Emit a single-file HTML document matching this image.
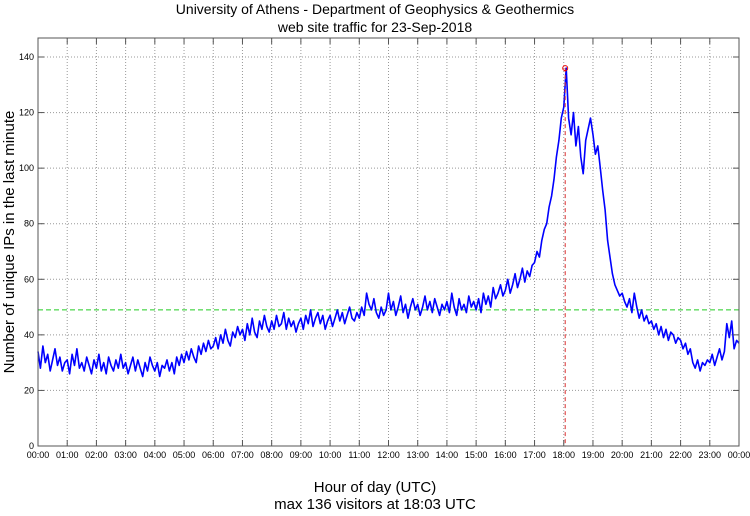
<!DOCTYPE html>
<html><head><meta charset="utf-8"><style>
body{margin:0;background:#fff;}
svg text{font-family:"Liberation Sans",sans-serif;fill:#000;}
</style></head><body>
<svg id="chart" width="750" height="511" xmlns="http://www.w3.org/2000/svg">
<text x="375" y="14" font-size="14" text-anchor="middle">University of Athens - Department of Geophysics &amp; Geothermics</text>
<text x="375" y="32" font-size="14" text-anchor="middle">web site traffic for 23-Sep-2018</text>
<text transform="translate(14,242) rotate(-90)" font-size="15" text-anchor="middle">Number of unique IPs in the last minute</text>
<text x="375" y="492" font-size="15" text-anchor="middle">Hour of day (UTC)</text>
<text x="375" y="509" font-size="15" text-anchor="middle">max 136 visitors at 18:03 UTC</text>
<g id="grid"></g><g id="marks"></g><g id="axes"></g>
</svg>
<script>
const yTicks=[0,20,40,60,80,100,120,140];
const xTickLabels=["00:00","01:00","02:00","03:00","04:00","05:00","06:00","07:00","08:00","09:00","10:00","11:00","12:00","13:00","14:00","15:00","16:00","17:00","18:00","19:00","20:00","21:00","22:00","23:00","00:00"];
const visitors=[
34,28,36,30,33,27,31,35,29,32,27,30,
31,26,33,29,35,28,30,27,32,29,26,31,
28,33,27,30,26,32,29,27,31,28,33,28,
30,26,29,32,27,31,28,25,30,27,32,29,
27,30,25,29,28,31,27,30,26,32,29,33,
30,34,31,35,32,30,36,33,37,34,38,35,
36,39,35,40,37,42,38,36,41,39,43,40,
42,38,44,40,46,41,39,45,42,47,43,41,
45,42,47,43,44,48,42,46,43,45,41,44,
46,42,47,44,49,43,46,48,44,47,42,45,
47,43,46,49,45,48,44,47,50,46,45,48,
46,50,47,55,51,49,53,48,46,50,47,49,
55,49,52,47,50,54,48,51,46,50,53,49,
51,47,50,54,49,52,48,53,50,47,51,49,
52,48,55,50,47,53,49,51,48,54,50,52,
49,53,48,55,51,54,50,57,53,55,58,54,
56,60,55,58,62,57,60,64,59,63,61,65,
66,70,68,74,78,80,86,90,96,104,110,118,
122,136,118,112,120,108,115,104,98,110,114,118,
112,105,108,100,92,85,74,68,62,58,56,54,
55,52,50,53,48,55,50,46,49,45,47,44,
45,42,44,40,43,39,42,38,41,40,37,39,
38,35,37,33,35,30,28,31,27,30,29,31,
30,33,29,32,35,31,34,44,39,45,35,38,
37];
const maxValue=136, maxHour=18.05, meanValue=49;
const L=38,R=739,T=38,B=446;
const X=h=>L+(R-L)*h/24;
const Y=v=>B-(B-57)*v/140;
const NS="http://www.w3.org/2000/svg";
function mk(tag,attrs,parent){const e=document.createElementNS(NS,tag);for(const k in attrs)e.setAttribute(k,attrs[k]);document.getElementById(parent).appendChild(e);return e;}
xTickLabels.forEach((lab,i)=>{
 const x=X(i);
 if(i>0&&i<24){const g=mk('line',{x1:x,x2:x,y1:T,y2:B,stroke:'#999','stroke-dasharray':'1,2'},'grid');
 }
 const t1=mk('line',{x1:x,x2:x,y1:B,y2:B-6,stroke:'#555'},'axes');
 
 const t2=mk('line',{x1:x,x2:x,y1:T,y2:T+6,stroke:'#555'},'axes');
 
 const t=mk('text',{x:x,y:B+12,'font-size':9,'text-anchor':'middle'},'axes');t.textContent=lab;
 
});
yTicks.forEach(v=>{
 const y=Y(v);
 if(v>0){const g=mk('line',{x1:L,x2:R,y1:y,y2:y,stroke:'#999','stroke-dasharray':'1,2'},'grid');
 }
 const t1=mk('line',{x1:L,x2:L+6,y1:y,y2:y,stroke:'#555'},'axes');
 
 const t2=mk('line',{x1:R,x2:R-6,y1:y,y2:y,stroke:'#555'},'axes');
 
 const t=mk('text',{x:L-4,y:y+3,'font-size':9,'text-anchor':'end'},'axes');t.textContent=v;
 
});
const box=mk('rect',{x:L,y:T,width:R-L,height:B-T,fill:'none',stroke:'#555'},'axes');

const mean=mk('line',{x1:L,x2:R,y1:Y(meanValue),y2:Y(meanValue),stroke:'#2c2','stroke-dasharray':'5,3'},'marks');

const n=visitors.length-1;
const pts=visitors.map((v,i)=>X(24*i/n).toFixed(1)+','+Y(v).toFixed(1)).join(' ');
const line=mk('polyline',{points:pts,fill:'none',stroke:'#00f','stroke-width':1.6,'stroke-linejoin':'round'},'marks');

const vl=mk('line',{x1:X(maxHour),x2:X(maxHour),y1:Y(maxValue),y2:B,stroke:'#d33','stroke-dasharray':'4,3'},'marks');

const mc=mk('circle',{cx:X(maxHour),cy:Y(maxValue),r:2.5,fill:'none',stroke:'#e00'},'marks');

</script>
</body></html>
